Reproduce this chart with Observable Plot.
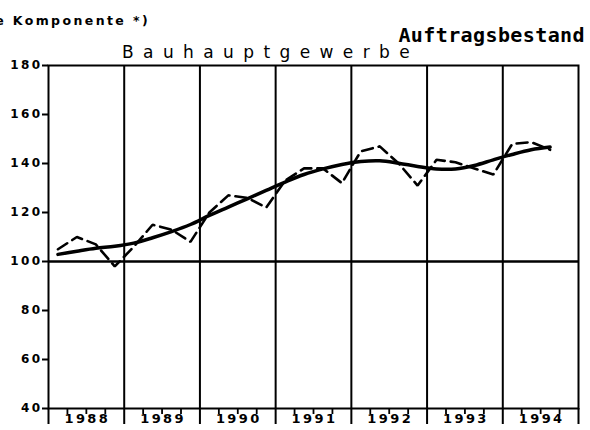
<!DOCTYPE html>
<html>
<head>
<meta charset="utf-8">
<script src="https://cdn.jsdelivr.net/npm/d3@7"></script>
<script src="https://cdn.jsdelivr.net/npm/@observablehq/plot@0.6"></script>
<style>
  html, body { margin: 0; padding: 0; background: #fff; overflow: hidden; }
  #wrap { position: relative; width: 590px; height: 430px; overflow: hidden; }
  #wrap svg text { letter-spacing: 2.4px; }
  .t { position: absolute; white-space: nowrap; color: #000; }
  #note { left: -248px; width: 398px; text-align: right; top: 13px; font: bold 12.5px "DejaVu Sans", sans-serif; letter-spacing: 2.4px; }
  #title { right: 5px; top: 23px; font: bold 20px "DejaVu Sans Mono", monospace; letter-spacing: 0.4px; }
  #sub { left: 122px; top: 42px; font: 17px "DejaVu Sans", sans-serif; letter-spacing: 9.4px; }
</style>
</head>
<body>
<div id="wrap">
  <div class="t" id="note">(glatte Komponente *)</div>
  <div class="t" id="title">Auftragsbestand</div>
  <div class="t" id="sub">Bauhauptgewerbe</div>
</div>
<script>
// Data: quarterly values, Q1 1988 .. Q3 1994
const yearLabels = ["1988", "1989", "1990", "1991", "1992", "1993", "1994"];
const yTicks = [40, 60, 80, 100, 120, 140, 160, 180];
const originalSeries = [
  105, 110, 107, 98,
  106, 115, 113, 108,
  120, 127, 126, 122,
  133, 138, 138, 132,
  145, 147, 140, 131,
  141.5, 140.5, 138, 135.5,
  148, 148.7, 145.6
];
const trendSeries = [
  102.9, 104.2, 105.4, 106.2,
  107.5, 109.7, 112.2, 115.1,
  118.8, 122.2, 125.6, 129,
  132.4, 135.5, 137.8, 139.6,
  140.8, 141.1, 140.1, 138.8,
  137.8, 137.8, 139.2, 141.5,
  143.7, 145.6, 146.7
];

const firstYear = +yearLabels[0];
const quarterTime = (i) => firstYear + (i + 0.5) / 4;
const original = originalSeries.map((v, i) => ({t: quarterTime(i), v}));
const trend = trendSeries.map((v, i) => ({t: quarterTime(i), v}));
const yearBounds = yearLabels.map(Number).concat([+yearLabels[yearLabels.length - 1] + 1]);
const yearMids = yearLabels.map((y) => +y + 0.5);
const quarterTicks = yearLabels.flatMap((y) => [0.25, 0.5, 0.75].map((q) => +y + q));

const chart = Plot.plot({
  width: 590,
  height: 430,
  marginLeft: 48,
  marginRight: 12,
  marginTop: 65,
  marginBottom: 22,
  style: {fontFamily: "DejaVu Sans, sans-serif", color: "#000", background: "#fff"},
  x: {domain: [yearBounds[0], yearBounds[yearBounds.length - 1]], axis: null},
  y: {domain: [yTicks[0], yTicks[yTicks.length - 1]], axis: null},
  marks: [
    Plot.ruleX(yearBounds.slice(1, -1), {strokeWidth: 2}),
    Plot.ruleY([100], {strokeWidth: 2.5}),
    Plot.frame({strokeWidth: 2}),
    Plot.axisY({ticks: yTicks, label: null, tickSize: 6, tickPadding: 0, strokeWidth: 2, fontSize: 12, fontWeight: "bold", tickFormat: (d) => String(d)}),
    Plot.axisX({ticks: quarterTicks, label: null, tickSize: 6, strokeWidth: 1.8, tickFormat: () => ""}),
    Plot.axisX({ticks: yearBounds, label: null, tickSize: 16, strokeWidth: 2, tickFormat: () => ""}),
    Plot.axisX({ticks: yearMids, label: null, tickSize: 0, tickPadding: 5, dx: 1, fontSize: 13, fontWeight: "bold", tickFormat: (d) => yearLabels[Math.floor(d) - firstYear]}),
    Plot.line(original, {x: "t", y: "v", strokeWidth: 2.6, strokeDasharray: "11,6", strokeLinejoin: "miter"}),
    Plot.line(trend, {x: "t", y: "v", strokeWidth: 3.5, curve: "catmull-rom"})
  ]
});
chart.style.position = "absolute";
chart.style.left = "0";
chart.style.top = "0";
const wrap = document.getElementById("wrap");
wrap.insertBefore(chart, wrap.firstChild);
</script>
</body>
</html>
